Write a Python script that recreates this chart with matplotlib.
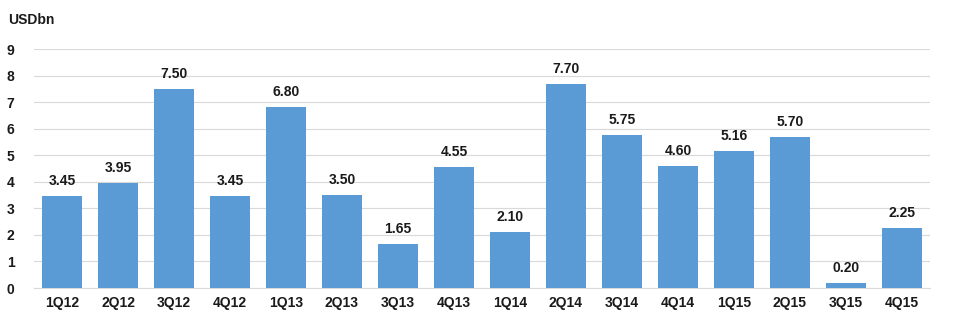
import matplotlib
matplotlib.use("Agg")
import matplotlib.pyplot as plt

categories = ["1Q12","2Q12","3Q12","4Q12","1Q13","2Q13","3Q13","4Q13",
              "1Q14","2Q14","3Q14","4Q14","1Q15","2Q15","3Q15","4Q15"]
values = [3.45, 3.95, 7.50, 3.45, 6.80, 3.50, 1.65, 4.55,
          2.10, 7.70, 5.75, 4.60, 5.16, 5.70, 0.20, 2.25]
y_ticks = list(range(0, 10))

plt.rcParams['font.family'] = ['Liberation Sans', 'DejaVu Sans']

fig = plt.figure(figsize=(9.54, 3.27), dpi=100)
ax = fig.add_axes([34/954, 1-288/327, (930-34)/954, (288-49)/327])

x = list(range(len(categories)))
ax.bar(x, values, width=0.71, color="#5B9BD5", zorder=3)
for xi, v in zip(x, values):
    ax.text(xi, v + 0.3, f"{v:.2f}", ha="center", va="bottom",
            fontsize=10, fontweight="bold", color="#1a1a1a")

ax.set_xlim(-0.5, len(categories) - 0.5)
ax.set_ylim(0, 9)
ax.set_yticks(y_ticks)
ax.set_xticks(x)
ax.set_xticklabels(categories)
for lbl in ax.get_xticklabels() + ax.get_yticklabels():
    lbl.set_fontweight("bold")
    lbl.set_fontsize(10)
    lbl.set_color("#1a1a1a")
ax.tick_params(axis="both", length=0)
ax.tick_params(axis="y", pad=14)
ax.tick_params(axis="x", pad=6)
ax.grid(axis="y", color="#d9d9d9", linewidth=0.8, zorder=0)
for s in ["top", "right", "left"]:
    ax.spines[s].set_visible(False)
ax.spines["bottom"].set_color("#d9d9d9")
ax.spines["bottom"].set_linewidth(0.8)

fig.text(8/954, 1-20/327, "USDbn", fontsize=10, fontweight="bold",
         color="#1a1a1a", ha="left", va="center")

fig.savefig("out.png", dpi=100)
